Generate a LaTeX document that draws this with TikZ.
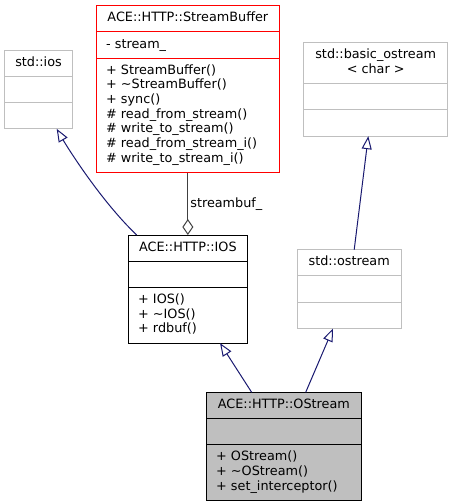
\documentclass[tikz,border=0pt]{standalone}
\usepackage{fontspec}
\setmainfont{DejaVu Sans}
\usetikzlibrary{shapes.multipart,arrows.meta}
\definecolor{edgeblue}{HTML}{191970}
\definecolor{grey75}{HTML}{BFBFBF}
\definecolor{grey25}{HTML}{404040}
\newcommand{\clsfont}{\fontsize{12.8}{14.67}\selectfont}

\begin{document}
\begin{tikzpicture}[x=1pt,y=-1pt,every node/.style={font=\clsfont},
 umlclass/.style={draw,line width=1pt,rectangle split,rectangle split parts=3,
  rectangle split part align={center,left,left},align=left,anchor=north,
  inner xsep=9.5pt,inner ysep=5.3pt,outer sep=0pt},
 stdclass/.style={umlclass,draw=grey75},
 inherit/.style={draw=edgeblue,line width=1pt,
  -{Triangle[open,length=13pt,width=10pt]}},
 uses/.style={draw=grey25,line width=1pt,
  {Diamond[open,length=16pt,width=11pt]}-}]
\useasboundingbox (0,0) rectangle (453,504);
\node[umlclass,draw=red,minimum width=182.3pt] (sbuf) at (187.85,5.7)
 {\strut ACE::HTTP::StreamBuffer\nodepart{two}\strut- stream\_
  \nodepart{three}\strut+ StreamBuffer()\\+ \textasciitilde StreamBuffer()\\
  + sync()\\\# read\_from\_stream()\\\# write\_to\_stream()\\
  \# read\_from\_stream\_i()\\\# write\_to\_stream\_i()\strut};
\node[stdclass,minimum width=67.6pt] (stdios) at (38.5,50)
 {\strut std::ios\nodepart{two}\strut\nodepart{three}\strut};
\node[stdclass,align=center,minimum width=144pt] (bostream) at (375.7,42.7)
 {\strut std::basic\_ostream\\< char >\strut\nodepart{two}\strut
  \nodepart{three}\strut};
\node[umlclass,minimum width=118.3pt] (httpios) at (187.85,235)
 {\strut ACE::HTTP::IOS\nodepart{two}\strut
  \nodepart{three}\strut+ IOS()\\+ \textasciitilde IOS()\\+ rdbuf()\strut};
\node[stdclass,minimum width=103.7pt] (ostream) at (349.2,249.7)
 {\strut std::ostream\nodepart{two}\strut\nodepart{three}\strut};
\node[umlclass,fill=grey75,minimum width=154.3pt] (hostream) at (283.85,392.3)
 {\strut ACE::HTTP::OStream\nodepart{two}\strut
  \nodepart{three}\strut+ OStream()\\+ \textasciitilde OStream()\\
  + set\_interceptor()\strut};
% inheritance
\draw[inherit] ([xshift=8pt]httpios.north west) .. controls (100,200) and (66,145)
 .. ([xshift=18.2pt]stdios.south);
\draw[inherit] ([xshift=5pt]ostream.north) -- ([xshift=-7.4pt]bostream.south);
\draw[inherit] ([xshift=-32.2pt]hostream.north) -- ([xshift=32.2pt]httpios.south);
\draw[inherit] ([xshift=21.85pt]hostream.north) -- ([xshift=-16.2pt]ostream.south);
% usage
\draw[uses] (httpios.north) -- node[right,pos=0.5,inner sep=2pt] (lblbuf)
 {streambuf\_} (sbuf.south);
\end{tikzpicture}
\end{document}
